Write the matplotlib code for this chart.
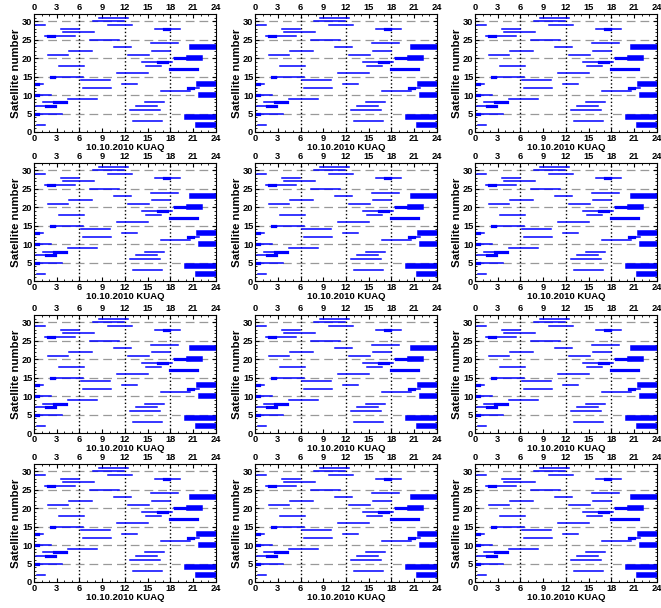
# 4x3 grid of satellite visibility plots, one station/day per panel
import matplotlib.pyplot as plt
import numpy as np

plt.rcParams['font.family'] = ['Liberation Sans', 'DejaVu Sans']
plt.rcParams['font.weight'] = 'bold'

# visibility arcs: satellite number, start hour, end hour
sat_num = [31, 30, 29, 29, 28, 28, 27, 26, 25, 24, 23, 22, 22, 21, 21, 20, 19, 18, 18,
           17, 16, 15, 14, 13, 13, 13, 12, 12, 11, 10, 10, 9, 8, 8, 7, 7, 6, 5, 4, 3, 2, 2, 23]
t_start = [8.6, 7.8, 0.2, 9.7, 3.5, 16.0, 3.8, 1.5, 7.4, 15.4, 10.6, 4.6, 15.6, 1.8, 12.4, 18.5, 14.3, 3.3, 14.8,
           17.9, 10.9, 2.4, 6.2, 0.3, 11.6, 21.7, 6.4, 20.3, 16.8, 0.3, 22.0, 4.5, 1.2, 14.6, 0.3, 13.4, 12.6, 0.3, 20.2, 13.0, 0.4, 21.6, 20.9]
t_end = [12.4, 11.9, 1.5, 12.9, 5.9, 19.3, 7.9, 5.4, 11.2, 19.0, 12.8, 7.6, 17.9, 4.5, 15.2, 22.0, 18.2, 6.6, 16.8,
         21.5, 15.0, 6.4, 10.0, 1.2, 13.6, 23.7, 10.1, 21.8, 20.6, 2.3, 23.7, 8.3, 4.3, 17.1, 2.9, 16.2, 16.6, 3.7, 23.7, 16.9, 1.4, 23.7, 23.7]

# parts of arcs with strong scatter (drawn heavier)
heavy_sat = [23, 4, 2, 13, 10, 20]
heavy_start = [20.9, 20.2, 21.6, 21.7, 22.0, 20.4]
heavy_end = [23.7, 23.7, 23.7, 23.7, 23.7, 21.9]

medium_sat = [26, 28, 7, 8, 17, 12, 19, 13, 10, 5, 15, 20]
medium_start = [1.8, 17.1, 1.6, 2.6, 18.0, 20.3, 16.3, 0.2, 0.2, 0.2, 2.3, 18.6]
medium_end = [2.6, 17.8, 2.8, 4.2, 21.5, 21.0, 17.5, 0.5, 0.5, 0.5, 2.6, 20.4]

xticks = np.arange(0, 25, 3)
yticks = np.arange(0, 31, 5)

fig = plt.figure(figsize=(6.61, 6.08), dpi=100)

lefts = [0.0514, 0.3858, 0.7186]
bottoms = [0.7829, 0.5378, 0.2878, 0.0428]
w, h = 0.2753, 0.1941

for b in bottoms:
    for l in lefts:
        ax = fig.add_axes([l, b, w, h])
        for yv in yticks[1:]:
            ax.axhline(yv, color='#999999', ls=(0, (7, 4)), lw=0.9, zorder=1)
        for xv in [6, 12, 18]:
            ax.axvline(xv, color='black', ls=':', lw=1.0, zorder=1)
        for s, t0, t1 in zip(sat_num, t_start, t_end):
            ax.plot([t0, t1], [s, s], color='#0000ff', lw=1.1, zorder=2)
        for s, t0, t1 in zip(medium_sat, medium_start, medium_end):
            ax.plot([t0, t1], [s, s], color='#0000ff', lw=2.3, zorder=2)
        for s, t0, t1 in zip(heavy_sat, heavy_start, heavy_end):
            ax.plot([t0, t1], [s, s], color='#0000ff', lw=4.0, zorder=2)
        ax.set_xlim(0, 24)
        ax.set_ylim(0, 32)
        ax.set_xticks(xticks)
        ax.set_yticks(yticks)
        ax.set_xticks(np.arange(0, 25, 1), minor=True)
        ax.set_yticks(np.arange(0, 33, 1), minor=True)
        ax.tick_params(axis='both', which='both', direction='in', top=True, right=True,
                       labeltop=True, labelsize=6.7, pad=1.2)
        ax.tick_params(which='major', length=3)
        ax.tick_params(which='minor', length=1.5)
        ax.set_xlabel('10.10.2010 KUAQ', fontsize=6.8, fontweight='bold', labelpad=0.2)
        ax.set_ylabel('Satellite number', fontsize=8.2, fontweight='bold', labelpad=0.5)
        for lab in ax.get_xticklabels() + ax.get_yticklabels():
            lab.set_fontweight('bold')

plt.savefig('out.png', dpi=100)
